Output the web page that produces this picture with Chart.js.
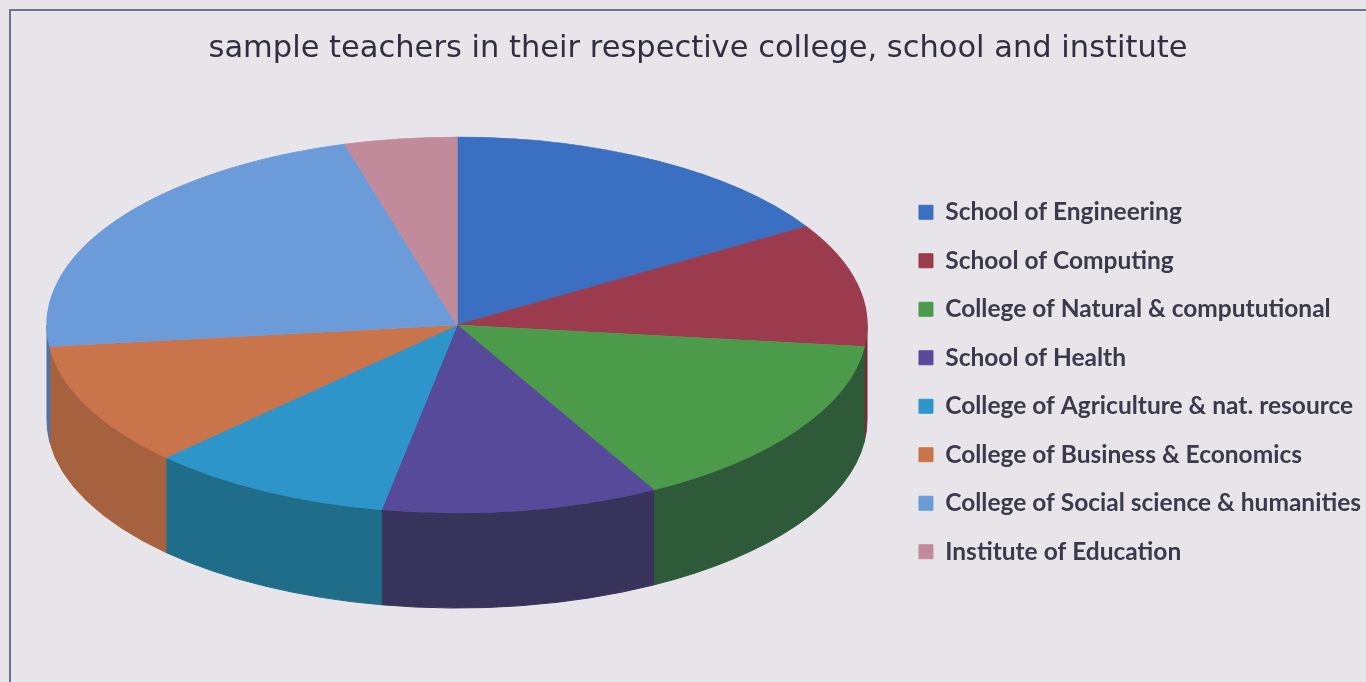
<!DOCTYPE html>
<html><head><meta charset="utf-8">
<script src="https://cdn.jsdelivr.net/npm/chart.js@4"></script>
<style>
html,body{margin:0;padding:0;background:#e8e5ea;overflow:hidden;}
#wrap{width:1366px;height:682px;position:relative;}
</style></head><body>
<div id="wrap"><canvas id="c" width="1366" height="682"></canvas></div>
<script>
// ---- data ----
const categories = [
  'School of Engineering',
  'School of Computing',
  'College of Natural & compututional',
  'School of Health',
  'College of Agriculture & nat. resource',
  'College of Business & Economics',
  'College of Social science & humanities',
  'Institute of Education'
];
const values = [16.2, 10.6, 15.2, 10.9, 9.6, 10.6, 22.4, 4.4];
const titleText = 'sample teachers in their respective college, school and institute';

// ---- style ----
const topColors  = ['#3b6fc1','#9b3b4d','#4c9b4a','#574a9b','#2e95cb','#c9744b','#6b9bd9','#c28b9b'];
const sideColors = ['#2b5290','#722b39','#2e5a3a','#37335a','#1f6d88','#a6623f','#4d73a6','#8e6572'];
const PIE = { cx: 457, cy: 325, rx: 410, ry: 188, depth: 95 };

const frame = {
  id: 'frame',
  beforeDraw(chart) {
    const ctx = chart.ctx;
    ctx.save();
    ctx.strokeStyle = '#6d7290';
    ctx.lineWidth = 2;
    ctx.strokeRect(10, 10, 1400, 700);
    ctx.restore();
  }
};

const pie3d = {
  id: 'pie3d',
  beforeDatasetsDraw(chart) {
    const ctx = chart.ctx;
    const meta = chart.getDatasetMeta(0);
    this._saved = false;
    if (!meta.data.length) return;
    const a0 = meta.data[0];
    const R = a0.outerRadius;
    // side walls (front half only)
    meta.data.forEach((arc, i) => {
      const s = Math.max(arc.startAngle, 0);
      const e = Math.min(arc.endAngle, Math.PI);
      if (e <= s) return;
      ctx.beginPath();
      ctx.ellipse(PIE.cx, PIE.cy, PIE.rx, PIE.ry, 0, s, e, false);
      ctx.ellipse(PIE.cx, PIE.cy + PIE.depth, PIE.rx, PIE.ry, 0, e, s, true);
      ctx.closePath();
      ctx.fillStyle = sideColors[i];
      ctx.fill();
      ctx.strokeStyle = sideColors[i];
      ctx.lineWidth = 1;
      ctx.stroke();
    });
    // top face: squash the library's arcs into an ellipse
    ctx.save();
    this._saved = true;
    ctx.translate(PIE.cx, PIE.cy);
    ctx.scale(PIE.rx / R, PIE.ry / R);
    ctx.translate(-a0.x, -a0.y);
  },
  afterDatasetsDraw(chart) {
    if (this._saved) chart.ctx.restore();
    this._saved = false;
  }
};

new Chart(document.getElementById('c'), {
  type: 'pie',
  data: {
    labels: categories,
    datasets: [{
      data: values,
      backgroundColor: topColors,
      borderColor: topColors,
      borderWidth: 1
    }]
  },
  options: {
    responsive: false,
    animation: false,
    layout: { padding: { left: 25, right: -5, top: 0, bottom: 0 } },
    plugins: {
      title: {
        display: true,
        text: titleText,
        color: '#2f2f40',
        font: { family: "'DejaVu Sans'", size: 30.5, weight: 'normal' },
        padding: { top: 31, bottom: 10 }
      },
      legend: {
        position: 'right',
        align: 'center',
        title: { display: true, text: '', font: { size: 10 }, padding: { top: 70, bottom: 0 } },
        labels: {
          boxWidth: 14,
          boxHeight: 14,
          padding: 24,
          color: '#3a3a4a',
          font: { family: 'Lato', size: 24.5, weight: 'bold' }
        }
      },
      tooltip: { enabled: false }
    }
  },
  plugins: [frame, pie3d]
});
</script>
</body></html>
